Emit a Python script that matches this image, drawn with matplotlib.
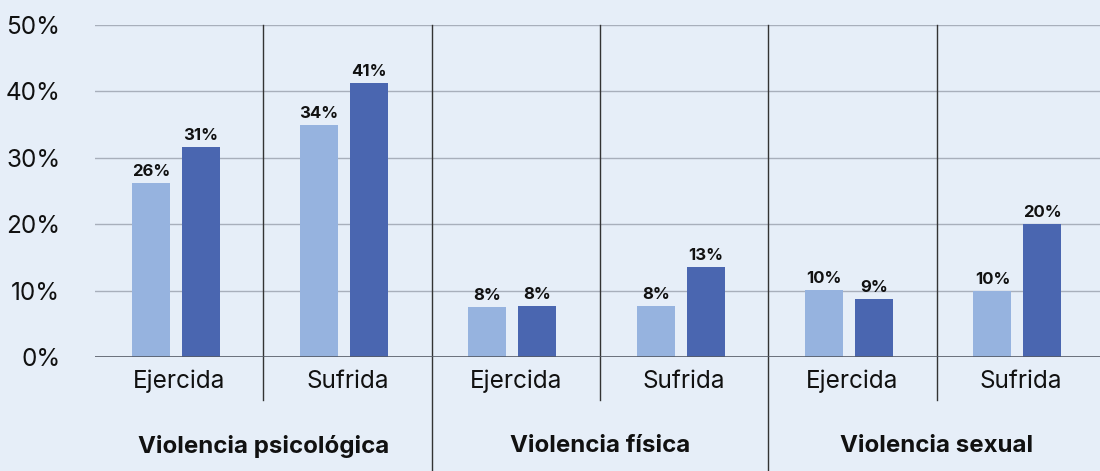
import matplotlib
matplotlib.use("Agg")
import matplotlib.pyplot as plt
from matplotlib.transforms import blended_transform_factory

plt.rcParams['font.family'] = ['Inter', 'DejaVu Sans']

categories = ["Ejercida", "Sufrida", "Ejercida", "Sufrida", "Ejercida", "Sufrida"]
groups = ["Violencia psicológica", "Violencia física", "Violencia sexual"]
series_light = [26.2, 35.0, 7.5, 7.7, 10.1, 10.0]
series_dark = [31.7, 41.2, 7.7, 13.6, 8.7, 20.0]
labels_light = ["26%", "34%", "8%", "8%", "10%", "10%"]
labels_dark = ["31%", "41%", "8%", "13%", "9%", "20%"]
yticks = [0, 10, 20, 30, 40, 50]
ytick_labels = ["0%", "10%", "20%", "30%", "40%", "50%"]

BG = "#e6eef8"
LIGHT = "#96b3df"
DARK = "#4a66b0"

W, H = 1100, 471
fig = plt.figure(figsize=(W / 100, H / 100), dpi=100, facecolor=BG)
left_px, right_px = 95, 95 + 6 * 168.3
top_px, bottom_px = 25, 357
ax = fig.add_axes([left_px / W, (H - bottom_px) / H, (right_px - left_px) / W, (bottom_px - top_px) / H])
ax.set_facecolor(BG)

x = list(range(len(categories)))
bw = 0.226
off = 0.148
xl = [i - 0.02 - off for i in x]
xd = [i - 0.02 + off for i in x]
ax.bar(xl, series_light, width=bw, color=LIGHT, zorder=2)
ax.bar(xd, series_dark, width=bw, color=DARK, zorder=2)
for xi, v, s in zip(xl, series_light, labels_light):
    ax.text(xi, v + 0.6, s, ha="center", va="bottom", fontsize=12, fontweight="bold", color="#111111")
for xi, v, s in zip(xd, series_dark, labels_dark):
    ax.text(xi, v + 0.6, s, ha="center", va="bottom", fontsize=12, fontweight="bold", color="#111111")

ax.set_xlim(-0.5, len(categories) - 0.5)
ax.set_ylim(0, 50)
ax.set_yticks(yticks)
ax.set_yticklabels(ytick_labels, fontsize=17.5, color="#111111")
ax.tick_params(axis="y", length=0, pad=25)
ax.set_xticks([])
for sp in ax.spines.values():
    sp.set_visible(False)
for t in yticks[1:]:
    ax.axhline(t, color="#a8afbb", lw=1.0, zorder=1)
ax.axhline(0, color="#555b66", lw=1.2, zorder=3)

trans = blended_transform_factory(ax.transData, ax.transAxes)
ax_h = bottom_px - top_px
for i in range(1, len(categories)):
    xb = i - 0.5
    if i % 2 == 0:
        yb = (bottom_px - H) / ax_h
    else:
        yb = (bottom_px - 400) / ax_h
    ax.plot([xb, xb], [1.0, yb], transform=trans, color="#333333", lw=1.0, clip_on=False, zorder=1)

for i, c in enumerate(categories):
    ax.text(i, (bottom_px - 381) / ax_h, c, transform=trans, ha="center", va="center", fontsize=17.5, color="#111111")
for g, name in enumerate(groups):
    ax.text(2 * g + 0.5, (bottom_px - 446) / ax_h, name, transform=trans, ha="center", va="center",
            fontsize=17.3, fontweight="bold", color="#111111")

fig.savefig("out.png", dpi=100, facecolor=BG)
